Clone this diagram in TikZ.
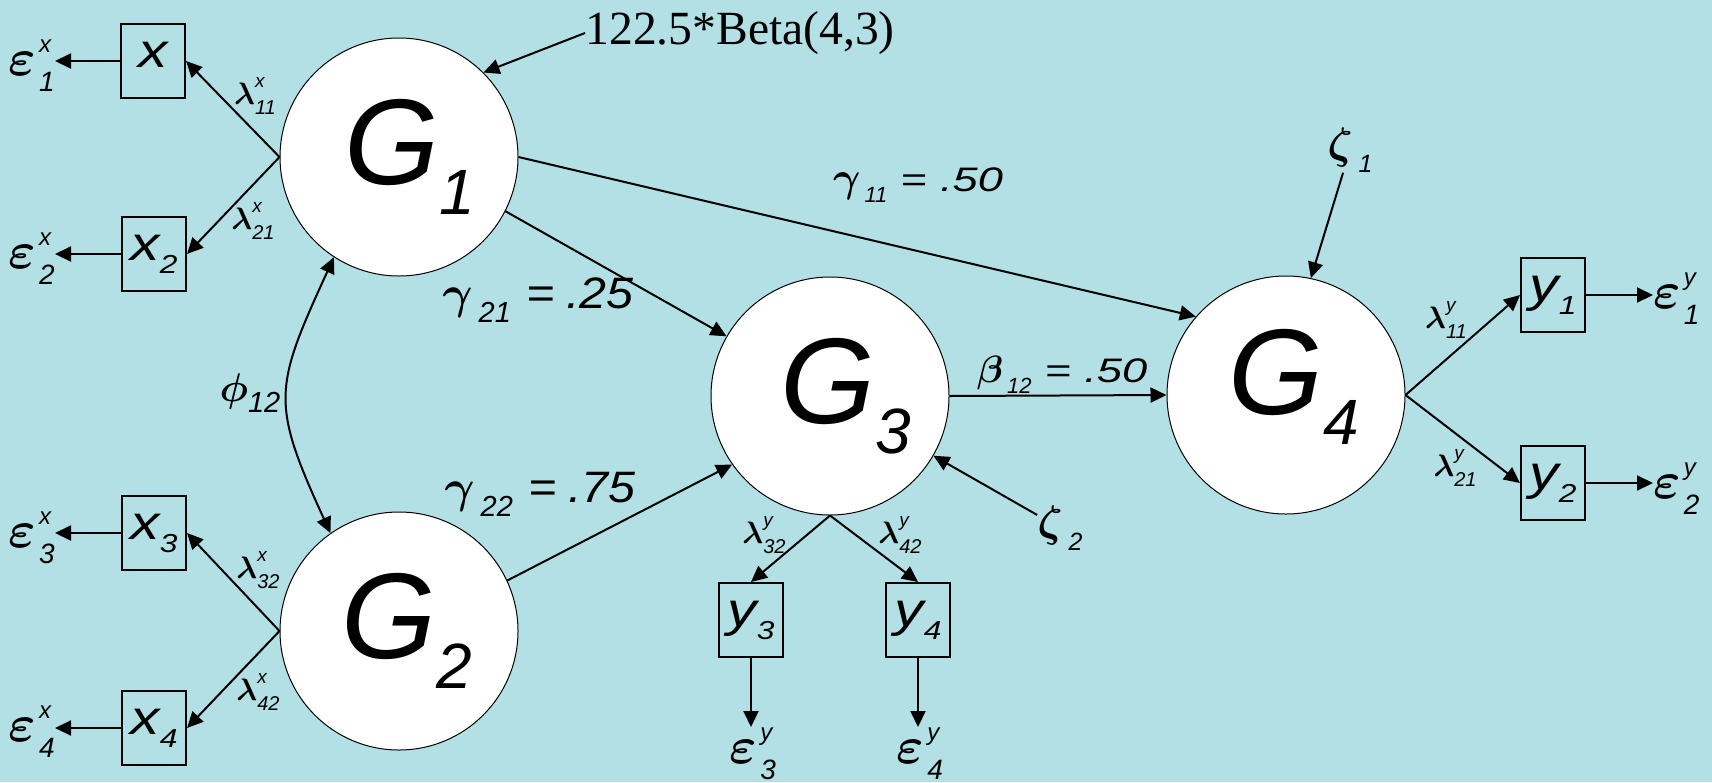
\documentclass[tikz,border=0pt]{standalone}
\usepackage{graphicx}
\usepackage{fontspec}
\setmainfont{Liberation Sans}
\newfontfamily\serifbeta{Liberation Serif}
\DeclareFontShape{OML}{cmm}{m}{it}{<-7>cmmi5<7-9>cmmi7<9-11>cmmi10<11->cmmi12}{\skewchar\font'177}
\DeclareFontShape{OML}{cmm}{b}{it}{<->cmmib10}{\skewchar\font'60}
\usetikzlibrary{arrows.meta}
\definecolor{bg}{RGB}{178,224,228}
\newcommand\Gk[2]{{\fontsize{#1}{#1}\selectfont\boldmath$#2$}}
\newcommand\Gn[1]{{\fontsize{61}{61}\selectfont G}\raisebox{-15pt}{\fontsize{32}{32}\selectfont #1}}
\newcommand\Bx[2]{\scalebox{1.22}[1]{{\fontsize{24}{24}\selectfont #1}\raisebox{-6.5pt}{\fontsize{13}{13}\selectfont #2}}}
\newcommand\Eps[2]{\Gk{26}{\varepsilon}\hspace{1.5pt}\ooalign{\raisebox{11.5pt}{\fontsize{12}{12}\selectfont #1}\cr\raisebox{-8pt}{\fontsize{14}{14}\selectfont #2}\cr}}
\newcommand\Lam[2]{\Gk{15.5}{\lambda}\ooalign{\raisebox{8.5pt}{\fontsize{9.5}{9.5}\selectfont #1}\cr\raisebox{-5pt}{\fontsize{10}{10}\selectfont #2}\cr}}
% small coefficient: #1 greek (math), #2 greek size, #3 subscript, #4 value
\newcommand\CoefS[4]{\Gk{#2}{#1}\hspace{2pt}\raisebox{-5.5pt}{\fontsize{11}{11}\selectfont #3}\hspace{6.5pt}\scalebox{1.33}[1]{\fontsize{17}{17}\selectfont =\hspace{5pt}#4}}
% large coefficient
\newcommand\CoefL[4]{\Gk{#2}{#1}\hspace{3pt}\raisebox{-7pt}{\fontsize{14.5}{14.5}\selectfont #3}\hspace{8pt}\scalebox{1.1}[1]{\fontsize{22}{22}\selectfont =\hspace{5pt}#4}}
\newcommand\Zet[1]{\Gk{22}{\zeta}\hspace{3pt}\raisebox{-7pt}{\fontsize{12.5}{12.5}\selectfont #1}}
\begin{document}
\begin{tikzpicture}[x=0.5pt,y=-0.5pt,font=\itshape,
  circ/.style={circle,draw,fill=white,line width=0.5pt,minimum size=119pt,inner sep=0pt},
  obs/.style={draw,line width=1pt,minimum width=32pt,minimum height=37pt,inner sep=0pt},
  lbl/.style={inner sep=0pt},
  arr/.style={line width=1pt,-{Triangle[length=8pt,width=7.5pt]}},
  darr/.style={line width=1pt,{Triangle[length=8pt,width=7.5pt]}-{Triangle[length=8pt,width=7.5pt]}}]
\useasboundingbox (0,0) rectangle (1712,782);
\fill[bg] (0,0) rectangle (1712,782);
% latent variables
\node[circ] (G1) at (399,157) {};
\node[circ] (G2) at (399,631) {};
\node[circ] (G3) at (830,396) {};
\node[circ] (G4) at (1286,395) {};
\node[lbl] (G1t) at ([xshift=5.5pt]G1.center) {\Gn{1}};
\node[lbl] (G2t) at ([xshift=4pt]G2.center) {\Gn{2}};
\node[lbl] (G3t) at ([xshift=8pt]G3.center) {\Gn{3}};
\node[lbl] (G4t) at ([xshift=4pt,yshift=4pt]G4.center) {\Gn{4}};
% observed boxes
\node[obs] (x1) at (153,61) {\Bx{x}{}};
\node[obs] (x2) at (154,254) {\Bx{x}{2}};
\node[obs] (x3) at (154,533) {\Bx{x}{3}};
\node[obs] (x4) at (154,728) {\Bx{x}{4}};
\node[obs] (y3) at (751,620) {\Bx{y}{3}};
\node[obs] (y4) at (918,620) {\Bx{y}{4}};
\node[obs] (y1) at (1553,295) {\Bx{y}{1}};
\node[obs] (y2) at (1553,483) {\Bx{y}{2}};
% errors
\node[lbl,anchor=east] (e1x) at (55,66) {\Eps{x}{1}};
\node[lbl,anchor=east] (e2x) at (55,259) {\Eps{x}{2}};
\node[lbl,anchor=east] (e3x) at (55,538) {\Eps{x}{3}};
\node[lbl,anchor=east] (e4x) at (55,732) {\Eps{x}{4}};
\node[lbl,anchor=west] (e1y) at (1653,299) {\Eps{y}{1}};
\node[lbl,anchor=west] (e2y) at (1653,489) {\Eps{y}{2}};
\node[lbl,anchor=north] (e3y) at (753,727) {\Eps{y}{3}};
\node[lbl,anchor=north] (e4y) at (920,727) {\Eps{y}{4}};
% loading labels
\node[lbl] (l11x) at (255,96) {\Lam{x}{11}};
\node[lbl] (l21x) at (253,221) {\Lam{x}{21}};
\node[lbl] (l32x) at (258,570) {\Lam{x}{32}};
\node[lbl] (l42x) at (258,692) {\Lam{x}{42}};
\node[lbl] (l32y) at (764,535) {\Lam{y}{32}};
\node[lbl] (l42y) at (900,535) {\Lam{y}{42}};
\node[lbl] (l11y) at (1446,320) {\Lam{y}{11}};
\node[lbl] (l21y) at (1455,468) {\Lam{y}{21}};
% coefficient labels
\node[lbl] (g11) at (918,185) {\CoefS{\gamma}{21}{11}{.50}};
\node[lbl] (b12) at (1062,375) {\CoefS{\beta}{19}{12}{.50}};
\node[lbl] (g21) at (538,300) {\CoefL{\gamma}{23}{21}{.25}};
\node[lbl] (g22) at (540,494) {\CoefL{\gamma}{23}{22}{.75}};
\node[lbl] (phi) at (250,393) {\Gk{20}{\phi}\raisebox{-5.5pt}{\fontsize{14.5}{14.5}\selectfont 12}};
\node[lbl] (z1) at (1350,150) {\Zet{1}};
\node[lbl] (z2) at (1060,528) {\Zet{2}};
\node[lbl,anchor=west,font=\serifbeta\upshape\fontsize{23.8}{23.8}\selectfont] (beta) at (585,33) {122.5*Beta(4,3)};
% connectors
\draw[arr] (G1.west) -- (x1.east);
\draw[arr] (G1.west) -- (x2.east);
\draw[arr] (G2.west) -- (x3.east);
\draw[arr] (G2.west) -- (x4.east);
\draw[arr] (x1.west) -- (x1.west -| e1x.east);
\draw[arr] (x2.west) -- (x2.west -| e2x.east);
\draw[arr] (x3.west) -- (x3.west -| e3x.east);
\draw[arr] (x4.west) -- (x4.west -| e4x.east);
\draw[arr] (G3.south) -- (y3.north);
\draw[arr] (G3.south) -- (y4.north);
\draw[arr] (y3.south) -- (y3.south |- e3y.north);
\draw[arr] (y4.south) -- (y4.south |- e4y.north);
\draw[arr] (G4.east) -- (y1.west);
\draw[arr] (G4.east) -- (y2.west);
\draw[arr] (y1.east) -- (y1.east -| e1y.west);
\draw[arr] (y2.east) -- (y2.east -| e2y.west);
\draw[arr] (G1.east) -- (G4.139);
\draw[arr] (G1.-27) -- (G3.150);
\draw[arr] (G2.25) -- (G3.215);
\draw[arr] (G3.east) -- (G4.west);
\draw[arr] (z1) -- (G4.78);
\draw[arr] (z2) -- (G3.-30);
\draw[arr] (beta.west) -- (G1.45);
\draw[darr] (G1.237) .. controls +(-60,131) and +(-60,-131) .. (G2.125);
\end{tikzpicture}
\end{document}
